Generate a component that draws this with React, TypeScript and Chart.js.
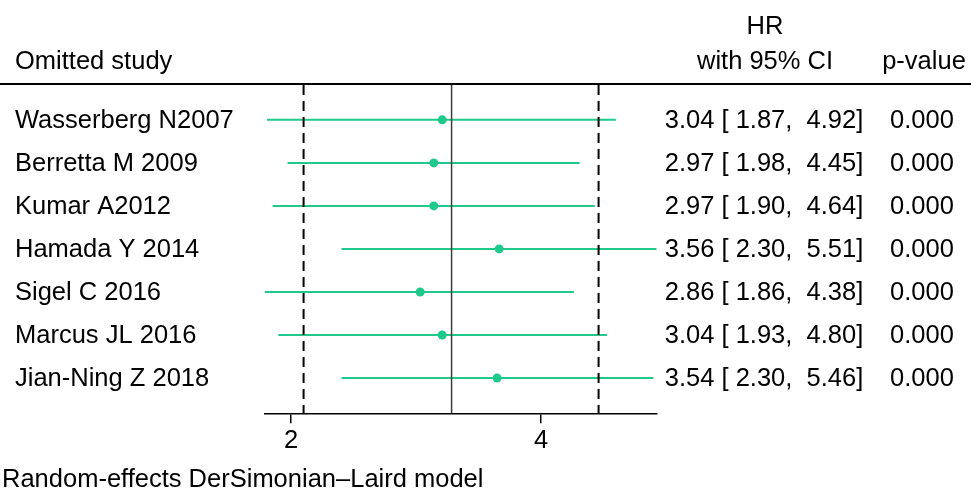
import React, { useEffect, useRef } from "react";
import { Chart, registerables } from "chart.js";

Chart.register(...registerables);

const studies = [
  "Wasserberg N2007",
  "Berretta M 2009",
  "Kumar A2012",
  "Hamada Y 2014",
  "Sigel C 2016",
  "Marcus JL 2016",
  "Jian-Ning Z 2018",
];
const hr = [3.04, 2.97, 2.97, 3.56, 2.86, 3.04, 3.54];
const lower = [1.87, 1.98, 1.9, 2.3, 1.86, 1.93, 2.3];
const upper = [4.92, 4.45, 4.64, 5.51, 4.38, 4.8, 5.46];
const pValues = ["0.000", "0.000", "0.000", "0.000", "0.000", "0.000", "0.000"];
const overall = 3.12;
const overallLower = 2.07;
const overallUpper = 4.69;
const xTicks = [2, 4];

const GREEN = "#1fc98c";
const FONT = '"Liberation Sans", Arial, Helvetica, sans-serif';
const FS = 25.5;

export default function App() {
  const ref = useRef<HTMLCanvasElement | null>(null);

  useEffect(() => {
    const canvas = ref.current;
    if (!canvas) return;
    const yMin = -0.81;
    const yMax = 6.82;

    const ciSets = studies.map((s, i) => ({
      type: "scatter" as const,
      label: s,
      data: [
        { x: lower[i], y: i },
        { x: upper[i], y: i },
      ],
      showLine: true,
      borderColor: GREEN,
      borderWidth: 2,
      pointRadius: 0,
      order: 3,
    }));

    const textPlugin = {
      id: "forestText",
      afterDraw(chart: any) {
        const ctx = chart.ctx as CanvasRenderingContext2D;
        const ys = chart.scales.y;
        ctx.save();
        ctx.fillStyle = "#000";
        ctx.font = `${FS}px ${FONT}`;
        ctx.textBaseline = "middle";
        // header
        ctx.textAlign = "left";
        ctx.fillText("Omitted study", 15, 62);
        ctx.textAlign = "center";
        ctx.fillText("HR", 765, 27);
        ctx.fillText("with 95% CI", 765, 62);
        ctx.fillText("p-value", 924, 62);
        // rule
        ctx.strokeStyle = "#000";
        ctx.lineWidth = 2;
        ctx.beginPath();
        ctx.moveTo(0, 84);
        ctx.lineTo(971, 84);
        ctx.stroke();
        // rows
        studies.forEach((s, i) => {
          const y = ys.getPixelForValue(i);
          ctx.textAlign = "left";
          ctx.fillText(s, 15, y + 1);
          ctx.textAlign = "center";
          const ci = `${hr[i].toFixed(2)} [ ${lower[i].toFixed(2)},  ${upper[i].toFixed(2)}]`;
          ctx.fillText(ci, 764, y + 1);
          ctx.fillText(pValues[i], 922, y + 1);
        });
        ctx.textAlign = "left";
        ctx.fillText("Random-effects DerSimonian\u2013Laird model", 2, 480);
        ctx.restore();
      },
    };

    const chart = new Chart(canvas, {
      type: "scatter",
      data: {
        datasets: [
          {
            label: "overall",
            data: [
              { x: overall, y: yMin },
              { x: overall, y: yMax },
            ],
            showLine: true,
            borderColor: "#3a3a3a",
            borderWidth: 1.5,
            pointRadius: 0,
            order: 0,
          },
          {
            label: "lower",
            data: [
              { x: overallLower, y: yMin },
              { x: overallLower, y: yMax },
            ],
            showLine: true,
            borderColor: "#000",
            borderWidth: 2,
            borderDash: [10, 6],
            pointRadius: 0,
            order: 0,
          },
          {
            label: "upper",
            data: [
              { x: overallUpper, y: yMin },
              { x: overallUpper, y: yMax },
            ],
            showLine: true,
            borderColor: "#000",
            borderWidth: 2,
            borderDash: [10, 6],
            pointRadius: 0,
            order: 0,
          },
          {
            label: "HR",
            data: hr.map((v, i) => ({ x: v, y: i })),
            showLine: false,
            backgroundColor: GREEN,
            borderColor: GREEN,
            pointRadius: 4.5,
            borderWidth: 0,
            order: 2,
          },
          ...ciSets,
        ],
      },
      options: {
        responsive: false,
        animation: false,
        devicePixelRatio: 1,
        layout: {
          padding: { left: 265, right: 971 - 656.7, top: 85, bottom: 36.7 },
        },
        plugins: {
          legend: { display: false },
          tooltip: { enabled: false },
        },
        scales: {
          x: {
            type: "logarithmic",
            min: Math.min(...lower),
            max: Math.max(...upper),
            afterBuildTicks: (scale: any) => {
              scale.ticks = xTicks.map((v) => ({ value: v }));
            },
            afterFit: (scale: any) => {
              scale.height = 50;
            },
            border: { display: true, color: "#000", width: 1.5 },
            grid: {
              display: true,
              drawOnChartArea: false,
              drawTicks: true,
              tickLength: 10,
              color: "#000",
              lineWidth: 1.5,
            },
            ticks: {
              color: "#000",
              font: { family: FONT, size: FS },
              padding: 2,
              maxRotation: 0,
              callback: (v: any) => String(v),
            },
          },
          y: {
            type: "linear",
            display: false,
            min: yMin,
            max: yMax,
            reverse: true,
          },
        },
      },
      plugins: [textPlugin],
    } as any);

    return () => chart.destroy();
  }, []);

  return (
    <div style={{ position: "absolute", left: 0, top: 0, width: 971, height: 500, background: "#fff" }}>
      <canvas ref={ref} width={971} height={500} style={{ width: 971, height: 500, display: "block" }} />
    </div>
  );
}
